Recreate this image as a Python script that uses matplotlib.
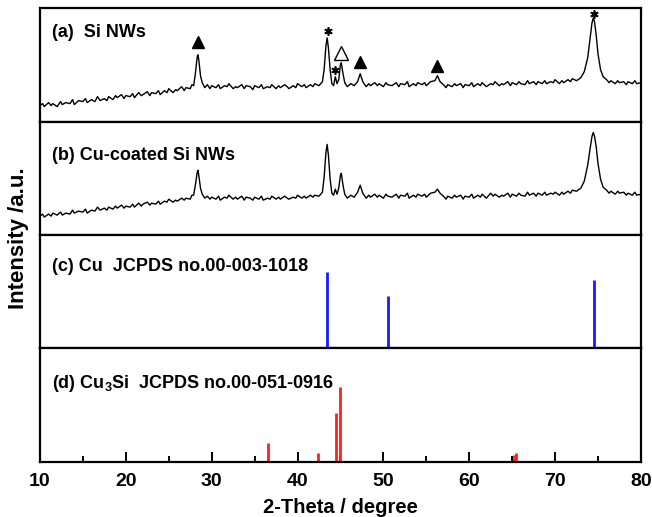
import matplotlib
matplotlib.use("Agg")
import matplotlib.pyplot as plt
from matplotlib.ticker import MultipleLocator

plt.rcParams['font.family'] = ['Liberation Sans', 'DejaVu Sans']
plt.rcParams['font.weight'] = 'bold'

# (a) Si NWs  -- (2theta, intensity)
pattern_a = [
    (10.0, 16), (10.3, 18), (10.5, 15), (11.0, 19), (11.3, 16), (11.5, 18),
    (12.0, 15), (12.4, 20), (12.6, 17), (13.0, 19), (13.5, 18), (13.8, 22),
    (14.0, 17), (14.5, 21), (15.0, 20), (15.3, 23), (15.5, 19), (16.0, 22),
    (16.4, 20), (16.7, 25), (17.0, 21), (17.5, 23), (17.8, 21), (18.0, 25),
    (18.5, 22), (18.8, 26), (19.0, 24), (19.5, 27), (19.8, 23), (20.0, 26),
    (20.5, 25), (20.8, 28), (21.0, 24), (21.5, 29), (21.8, 26), (22.0, 27),
    (22.5, 30), (22.8, 26), (23.0, 29), (23.5, 28), (23.8, 31), (24.0, 27),
    (24.5, 31), (24.8, 29), (25.0, 33), (25.5, 29), (25.8, 32), (26.0, 31),
    (26.5, 35), (26.8, 31), (27.0, 34), (27.5, 33), (27.7, 37), (27.9, 36),
    (28.1, 48), (28.3, 64), (28.4, 67), (28.5, 62), (28.7, 46), (28.9, 39),
    (29.2, 34), (29.5, 37), (29.8, 33), (30.0, 36), (30.5, 34), (30.8, 37),
    (31.0, 33), (31.5, 36), (31.8, 35), (32.0, 38), (32.5, 33), (32.8, 35),
    (33.0, 34), (33.5, 37), (33.8, 33), (34.0, 36), (34.5, 35), (34.8, 32),
    (35.0, 36), (35.5, 34), (35.8, 37), (36.0, 33), (36.5, 35), (36.8, 34),
    (37.0, 37), (37.5, 33), (37.8, 36), (38.0, 34), (38.5, 37), (38.8, 35),
    (39.0, 33), (39.5, 36), (39.8, 34), (40.0, 38), (40.5, 35), (40.8, 37),
    (41.0, 34), (41.5, 37), (41.8, 35), (42.0, 38), (42.5, 36), (42.9, 40),
    (43.1, 52), (43.3, 75), (43.45, 84), (43.6, 74), (43.8, 52), (44.0, 38),
    (44.2, 36), (44.4, 45), (44.6, 38), (44.8, 42), (45.0, 57), (45.1, 59),
    (45.3, 48), (45.5, 39), (45.8, 35), (46.2, 38), (46.6, 36), (47.0, 40),
    (47.3, 48), (47.6, 40), (48.0, 35), (48.3, 38), (48.5, 36), (49.0, 39),
    (49.3, 36), (49.5, 38), (50.0, 35), (50.3, 39), (50.5, 37), (51.0, 36),
    (51.5, 39), (51.8, 35), (52.0, 38), (52.5, 37), (52.8, 40), (53.0, 35),
    (53.5, 38), (53.8, 36), (54.0, 39), (54.5, 37), (54.8, 39), (55.0, 36),
    (55.5, 40), (56.0, 41), (56.3, 46), (56.6, 40), (57.0, 37), (57.3, 34),
    (57.5, 37), (58.0, 35), (58.3, 38), (58.5, 36), (59.0, 38), (59.3, 34),
    (59.5, 37), (60.0, 36), (60.3, 39), (60.5, 35), (61.0, 38), (61.3, 36),
    (61.5, 39), (62.0, 35), (62.5, 38), (62.8, 37), (63.0, 40), (63.5, 36),
    (63.8, 38), (64.0, 37), (64.5, 40), (64.8, 36), (65.0, 39), (65.5, 37),
    (65.8, 40), (66.0, 38), (66.5, 37), (66.8, 41), (67.0, 38), (67.5, 40),
    (67.8, 37), (68.0, 40), (68.5, 38), (68.8, 41), (69.0, 38), (69.5, 40),
    (69.8, 39), (70.0, 42), (70.5, 38), (70.8, 41), (71.0, 39), (71.5, 42),
    (71.8, 40), (72.0, 43), (72.5, 41), (73.0, 44),
    (73.4, 50), (73.8, 64), (74.1, 85), (74.3, 99), (74.45, 104), (74.6, 100),
    (74.8, 86), (75.0, 68), (75.3, 52), (75.6, 45), (76.0, 42), (76.3, 39),
    (76.5, 41), (77.0, 38), (77.3, 41), (77.5, 39), (78.0, 40), (78.3, 37),
    (78.5, 40), (79.0, 38), (79.3, 41), (79.5, 38), (80.0, 39),
]

# (b) Cu-coated Si NWs
pattern_b = [
    (10.0, 19), (10.3, 21), (10.5, 18), (11.0, 21), (11.3, 19), (11.5, 22),
    (12.0, 20), (12.4, 23), (12.6, 20), (13.0, 22), (13.5, 21), (13.8, 25),
    (14.0, 22), (14.5, 24), (15.0, 23), (15.3, 26), (15.5, 22), (16.0, 25),
    (16.4, 24), (16.7, 28), (17.0, 25), (17.5, 27), (17.8, 25), (18.0, 28),
    (18.5, 26), (18.8, 29), (19.0, 27), (19.5, 30), (19.8, 27), (20.0, 29),
    (20.5, 28), (20.8, 31), (21.0, 28), (21.5, 32), (21.8, 29), (22.0, 31),
    (22.5, 33), (22.8, 30), (23.0, 32), (23.5, 31), (23.8, 34), (24.0, 31),
    (24.5, 34), (24.8, 33), (25.0, 36), (25.5, 33), (25.8, 35), (26.0, 34),
    (26.5, 37), (26.8, 35), (27.0, 37), (27.5, 36), (27.7, 40), (27.9, 40),
    (28.1, 50), (28.3, 62), (28.4, 65), (28.5, 60), (28.7, 47), (28.9, 41),
    (29.2, 37), (29.5, 39), (29.8, 36), (30.0, 38), (30.5, 36), (30.8, 39),
    (31.0, 35), (31.5, 38), (31.8, 37), (32.0, 40), (32.5, 36), (32.8, 38),
    (33.0, 36), (33.5, 39), (33.8, 35), (34.0, 38), (34.5, 37), (34.8, 35),
    (35.0, 38), (35.5, 36), (35.8, 39), (36.0, 35), (36.5, 37), (36.8, 36),
    (37.0, 39), (37.5, 36), (37.8, 38), (38.0, 36), (38.5, 39), (38.8, 37),
    (39.0, 36), (39.5, 38), (39.8, 37), (40.0, 40), (40.5, 37), (40.8, 39),
    (41.0, 37), (41.5, 40), (41.8, 38), (42.0, 40), (42.5, 39), (42.9, 43),
    (43.1, 58), (43.3, 82), (43.45, 91), (43.6, 80), (43.8, 56), (44.0, 42),
    (44.2, 40), (44.4, 46), (44.6, 41), (44.8, 47), (45.0, 60), (45.1, 62),
    (45.3, 50), (45.5, 41), (45.8, 37), (46.2, 40), (46.6, 38), (47.0, 43),
    (47.3, 50), (47.6, 42), (48.0, 37), (48.3, 40), (48.5, 38), (49.0, 41),
    (49.3, 38), (49.5, 40), (50.0, 37), (50.3, 41), (50.5, 39), (51.0, 38),
    (51.5, 41), (51.8, 37), (52.0, 40), (52.5, 39), (52.8, 42), (53.0, 37),
    (53.5, 40), (53.8, 38), (54.0, 41), (54.5, 39), (54.8, 41), (55.0, 38),
    (55.5, 42), (56.0, 43), (56.3, 46), (56.6, 42), (57.0, 39), (57.3, 36),
    (57.5, 39), (58.0, 37), (58.3, 40), (58.5, 38), (59.0, 40), (59.3, 36),
    (59.5, 39), (60.0, 38), (60.3, 41), (60.5, 37), (61.0, 40), (61.3, 38),
    (61.5, 41), (62.0, 37), (62.5, 42), (62.8, 39), (63.0, 41), (63.5, 38),
    (63.8, 40), (64.0, 39), (64.5, 42), (64.8, 38), (65.0, 41), (65.5, 39),
    (65.8, 42), (66.0, 40), (66.5, 39), (66.8, 43), (67.0, 40), (67.5, 42),
    (67.8, 39), (68.0, 42), (68.5, 40), (68.8, 43), (69.0, 40), (69.5, 42),
    (69.8, 41), (70.0, 43), (70.5, 40), (70.8, 43), (71.0, 41), (71.5, 44),
    (71.8, 42), (72.0, 45), (72.5, 44), (73.0, 47),
    (73.4, 54), (73.8, 70), (74.1, 88), (74.3, 99), (74.45, 103), (74.6, 99),
    (74.8, 88), (75.0, 72), (75.3, 56), (75.6, 48), (76.0, 45), (76.3, 42),
    (76.5, 44), (77.0, 41), (77.3, 44), (77.5, 42), (78.0, 43), (78.3, 40),
    (78.5, 42), (79.0, 40), (79.3, 43), (79.5, 40), (80.0, 41),
]

# (c) Cu reference lines
cu_pos = [43.4, 50.5, 74.5]
cu_int = [0.67, 0.46, 0.60]

# (d) Cu3Si reference lines
cu3si_pos = [36.6, 42.4, 44.5, 45.0, 65.2, 65.4]
cu3si_int = [0.17, 0.08, 0.43, 0.66, 0.06, 0.08]

# phase markers in panel (a)
si_tri_x = [28.4, 47.3, 56.3]
si_tri_y = [80, 60, 56]
open_tri_x = [45.1]
open_tri_y = [69]
star_x = [43.5, 44.4, 74.5]
star_y = [91, 52, 108]

panel_labels = ['(a)  Si NWs', '(b) Cu-coated Si NWs',
                '(c) Cu  JCPDS no.00-003-1018',
                r'(d) Cu$_\mathregular{3}$Si  JCPDS no.00-051-0916']

fig, axs = plt.subplots(4, 1, figsize=(6.52, 5.17), dpi=100, sharex=True)
fig.subplots_adjust(left=0.0613, right=0.983, top=0.9845, bottom=0.1064, hspace=0)

for ax, pat in zip(axs[:2], [pattern_a, pattern_b]):
    xs = [p[0] for p in pat]
    ys = [p[1] for p in pat]
    ax.plot(xs, ys, color='black', lw=1.0)
    ax.set_ylim(0, 114)

axs[0].plot(si_tri_x, si_tri_y, '^', color='black', ms=9, ls='none')
axs[0].plot(open_tri_x, open_tri_y, '^', mfc='white', mec='black', mew=1.0, ms=10, ls='none')
axs[0].plot(star_x, star_y, marker=(6, 2, 0), color='black', ms=6, mew=1.2, ls='none')

axs[2].vlines(cu_pos, 0, cu_int, color='#1a1aff', lw=2)
axs[2].set_ylim(0, 1)
axs[3].vlines(cu3si_pos, 0, cu3si_int, color='#ff2020', lw=2)
axs[3].set_ylim(0, 1)

label_y = [0.78, 0.70, 0.72, 0.69]
for ax, lab, ly in zip(axs, panel_labels, label_y):
    ax.text(0.02, ly, lab, transform=ax.transAxes, fontsize=13,
            fontweight='bold', va='center', ha='left')
    for s in ax.spines.values():
        s.set_linewidth(1.6)
    ax.set_yticks([])
    ax.tick_params(axis='x', which='both', length=0, labelbottom=False)

ax = axs[3]
ax.set_xlim(10, 80)
ax.xaxis.set_major_locator(MultipleLocator(10))
ax.xaxis.set_minor_locator(MultipleLocator(5))
ax.tick_params(axis='x', which='major', direction='in', length=7, width=1.4,
               labelbottom=True, labelsize=14, pad=8)
ax.tick_params(axis='x', which='minor', direction='in', length=4.5, width=1.4)
ax.set_xlabel('2-Theta / degree', fontsize=14.5, fontweight='bold', labelpad=6)

fig.text(0.028, 1 - 238 / 517, 'Intensity /a.u.', rotation=90, fontsize=16,
         fontweight='bold', ha='center', va='center')

fig.savefig('out.png', dpi=100)
